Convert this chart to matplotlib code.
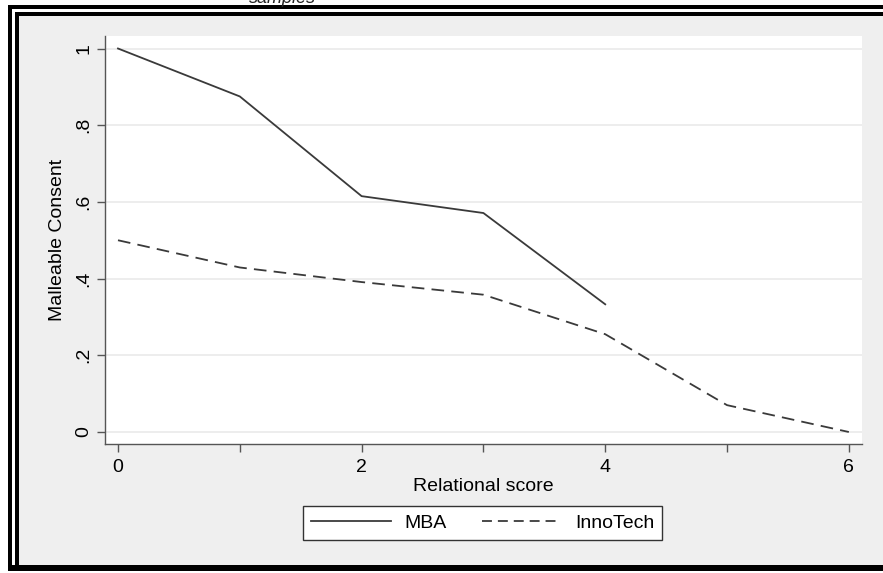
import matplotlib
matplotlib.use('Agg')
import matplotlib.pyplot as plt
from matplotlib.patches import Rectangle

# values
relational_score = [0, 1, 2, 3, 4, 5, 6]
mba = [1.0, 0.875, 0.615, 0.571, 0.333]
innotech = [0.5, 0.429, 0.391, 0.358, 0.255, 0.07, 0.0]
y_ticks = [0, 0.2, 0.4, 0.6, 0.8, 1.0]
y_tick_labels = ["0", ".2", ".4", ".6", ".8", "1"]
x_ticks = [0, 1, 2, 3, 4, 5, 6]
x_tick_labels = ["0", "", "2", "", "4", "", "6"]

W, H = 883, 573
plt.rcParams['font.family'] = ['Liberation Sans', 'DejaVu Sans']
FS = 14

fig = plt.figure(figsize=(W / 100, H / 100), dpi=100, facecolor='white')


def px_rect(x0, y0, x1, y1, color):
    """Rectangle given in pixel coordinates measured from the top-left."""
    fig.add_artist(Rectangle((x0 / W, 1 - y1 / H), (x1 - x0) / W, (y1 - y0) / H,
                             transform=fig.transFigure, facecolor=color,
                             edgecolor='none', zorder=0))


# double frame around the graph region (cropped on the right)
px_rect(8, 5, W, 571, 'black')
px_rect(12, 9, W, 565, 'white')
px_rect(15, 12, W, 565, 'black')
px_rect(19, 16, W, 565, '#efefef')

# partially cropped title at the very top
fig.text(282 / W, 1 - 3 / H, "samples", ha='center', va='baseline',
         fontsize=13, style='italic', color='#222222')

ax = fig.add_axes([105 / W, 1 - 444 / H, 757 / W, 408 / H])
ax.set_facecolor('white')

line_color = '#3a3a3a'
ax.plot(relational_score[:len(mba)], mba, color=line_color, lw=1.3,
        label='MBA')
ax.plot(relational_score, innotech, color=line_color, lw=1.3,
        dashes=(7, 4), label='InnoTech')

ax.set_xlim(-0.1067, 6.108)
ax.set_ylim(-0.0313, 1.0326)

ax.set_yticks(y_ticks)
ax.set_yticklabels(y_tick_labels, rotation=90, va='center')
ax.set_xticks(x_ticks)
ax.set_xticklabels(x_tick_labels)

ax.grid(axis='y', color='#eaeaea', lw=1.2)
ax.set_axisbelow(True)

for side in ['top', 'right']:
    ax.spines[side].set_visible(False)
for side in ['left', 'bottom']:
    ax.spines[side].set_color('#555555')
    ax.spines[side].set_linewidth(1.0)

ax.tick_params(axis='both', direction='out', length=6, width=1.0,
               color='#555555', labelsize=FS, labelcolor='black')
ax.tick_params(axis='y', pad=3)
ax.tick_params(axis='x', pad=5)

ax.set_xlabel("Relational score", fontsize=FS, labelpad=1)
ax.set_ylabel("Malleable Consent", fontsize=FS, labelpad=7)

leg = fig.legend(loc='center', bbox_to_anchor=(482.5 / W, 1 - 523 / H),
                 ncol=2, fontsize=FS, frameon=True, fancybox=False,
                 edgecolor='#333333', framealpha=1, handlelength=4.1,
                 handletextpad=0.7, columnspacing=1.8, borderpad=0.4)
leg.get_frame().set_linewidth(1.0)
leg.get_lines()[1].set_dashes((5.5, 3.3))

plt.savefig('out.png', dpi=100)
